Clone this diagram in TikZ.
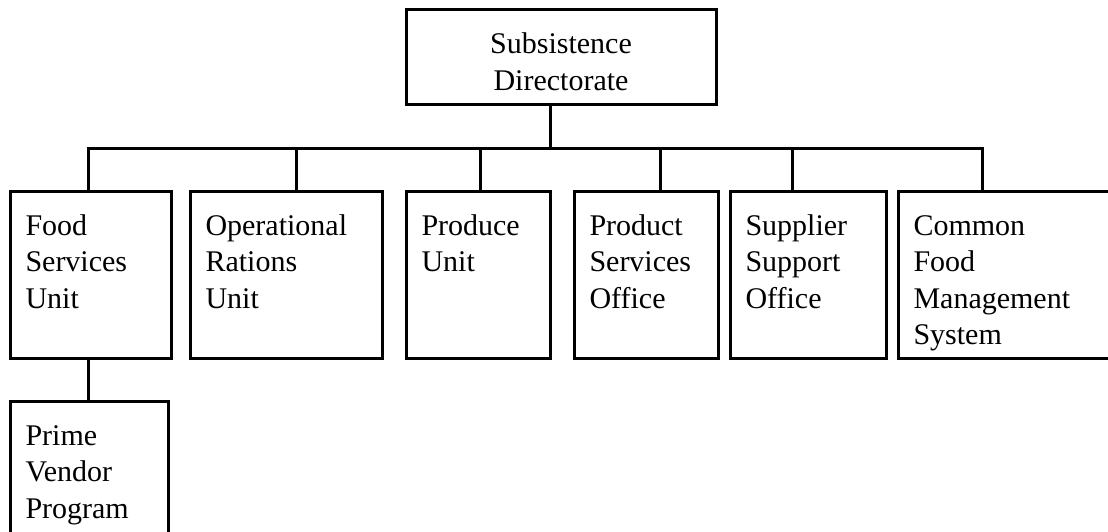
\documentclass[tikz,border=0pt]{standalone}
\usepackage{fontspec}
\setmainfont{LiberationSerif}[Extension=.ttf, UprightFont=*-Regular]
\usetikzlibrary{positioning}

\begin{document}
\begin{tikzpicture}[
  x=0.5pt,
  y=-0.5pt,
  node distance=9.5pt,
  unit/.style={
    rectangle,
    draw=black,
    fill=white,
    text=black,
    line width=1.5pt,
    outer sep=0pt,
    inner xsep=7.5pt,
    inner ysep=0pt,
    anchor=north west,
    align=left,
    text height=22pt,
    text depth=61.5pt,
    font=\fontsize{15}{18.25}\selectfont
  },
  head/.style={
    unit,
    align=center,
    text height=22.4pt,
    text depth=25.1pt
  },
  link/.style={
    line width=1.5pt,
    draw=black
  }
]

\useasboundingbox (0,0) rectangle (1108,531);
\clip (0,0) rectangle (1108,531);

\node[head, text width=140pt] (sub) at (406,9) {Subsistence\\Directorate};

\node[unit, text width=65.5pt] (food) at (10.5,191) {Food\\Services\\Unit};
\node[unit, text width=81pt, right=9.5pt of food.north east, anchor=north west] (rations) {Operational\\Rations\\Unit};
\node[unit, text width=57pt, right=12pt of rations.north east, anchor=north west] (produce) {Produce\\Unit};
\node[unit, text width=57pt, right=12pt of produce.north east, anchor=north west] (product) {Product\\Services\\Office};
\node[unit, text width=63pt, right=6pt of product.north east, anchor=north west] (supplier) {Supplier\\Support\\Office};
\node[unit, text width=95pt, right=6pt of supplier.north east, anchor=north west] (cfms) {Common\\Food\\Management\\System};

\node[unit, text width=64pt, text depth=62pt, below=21.5pt of food.south west, anchor=north west] (prime) {Prime\\Vendor\\Program};

\draw[link] ([xshift=72pt]sub.south west) -- ++(0,-22pt);
\draw[link] ([xshift=38.75pt]food.north west) -- ++(0,21.5pt) -| ([xshift=41.75pt]cfms.north west);
\draw[link] ([xshift=52.75pt]rations.north west) -- ++(0,21.5pt);
\draw[link] ([xshift=36.75pt]produce.north west) -- ++(0,21.5pt);
\draw[link] ([xshift=42.75pt]product.north west) -- ++(0,21.5pt);
\draw[link] ([xshift=30.75pt]supplier.north west) -- ++(0,21.5pt);
\draw[link] ([xshift=38.75pt]food.south west) -- ([xshift=38.75pt]food.south west |- prime.north);

\end{tikzpicture}
\end{document}
